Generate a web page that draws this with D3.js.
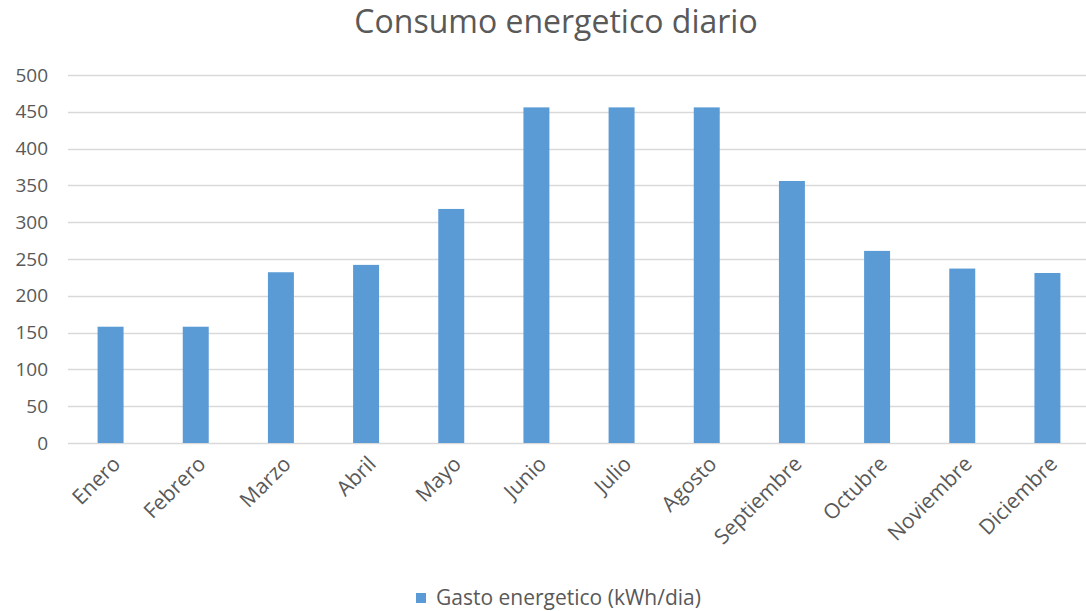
<!DOCTYPE html>
<html>
<head>
<meta charset="utf-8">
<script src="https://cdn.jsdelivr.net/npm/d3@7/dist/d3.min.js"></script>
<style>
  body { margin: 0; background: #fff; }
  text { font-family: 'Open Sans', sans-serif; fill: #595959; }
</style>
</head>
<body>
<script>
// months and daily energy use
let months = ['Enero', 'Febrero', 'Marzo', 'Abril', 'Mayo', 'Junio', 'Julio',
  'Agosto', 'Septiembre', 'Octubre', 'Noviembre', 'Diciembre']
let gasto = [158, 158, 232, 242, 318, 456, 456, 456, 356, 261, 237, 231]
let yTicks = [0, 50, 100, 150, 200, 250, 300, 350, 400, 450, 500]
let seriesName = 'Gasto energetico (kWh/dia)'
let title = 'Consumo energetico diario'

let width = 1086, height = 611
let margin = {top: 75, left: 68, bottom: 168, right: -4}

let svg = d3.select('body')
  .append('svg')
  .attr('width', width)
  .attr('height', height)

let x = d3.scaleBand()
  .domain(months)
  .range([margin.left, width - margin.right])
  .paddingInner(0.695)
  .paddingOuter(0.3475)

let y = d3.scaleLinear()
  .domain([0, 500])
  .range([height - margin.bottom, margin.top])

// grid lines
svg.append('g')
  .selectAll('line')
  .data(yTicks)
  .enter().append('line')
    .attr('x1', margin.left)
    .attr('x2', width)
    .attr('y1', d => Math.round(y(d)) + 0.5)
    .attr('y2', d => Math.round(y(d)) + 0.5)
    .attr('stroke', '#d9d9d9')
    .attr('stroke-width', 1.3)

// y labels
let yAxis = svg.append('g')
  .attr('transform', 'translate(' + (margin.left - 20) + ',0)')
  .call(d3.axisLeft(y).tickValues(yTicks).tickSize(0).tickPadding(0))
yAxis.select('.domain').remove()
yAxis.selectAll('text')
  .style('font-size', '19px')
  .style('font-family', "'Open Sans', sans-serif")
  .attr('fill', '#595959')

// bars
svg.selectAll('.bar')
  .data(gasto)
  .enter().append('rect')
    .attr('class', 'bar')
    .attr('x', (d, i) => x(months[i]))
    .attr('width', x.bandwidth())
    .attr('y', d => y(d))
    .attr('height', d => y(0) - y(d))
    .attr('fill', '#5b9bd5')

// x labels
let xAxis = svg.append('g')
  .attr('transform', 'translate(0,' + (y(0) + 17) + ')')
  .call(d3.axisBottom(x).tickSize(0).tickPadding(0))
xAxis.select('.domain').remove()
xAxis.selectAll('text')
  .style('font-size', '21px')
  .style('font-family', "'Open Sans', sans-serif")
  .attr('fill', '#595959')
  .style('text-anchor', 'end')
  .attr('dy', '0.35em')
  .attr('transform', 'translate(6,0) rotate(-45)')

// title
svg.append('text')
  .attr('x', 556)
  .attr('y', 33)
  .style('text-anchor', 'middle')
  .style('font-size', '32px')
  .text(title)

// legend
let legend = svg.append('g')
  .attr('transform', 'translate(416,593)')
legend.append('rect')
  .attr('width', 10)
  .attr('height', 10)
  .attr('fill', '#5b9bd5')
legend.append('text')
  .attr('x', 20)
  .attr('y', 5)
  .attr('dy', '0.35em')
  .style('font-size', '21px')
  .text(seriesName)
</script>
</body>
</html>
